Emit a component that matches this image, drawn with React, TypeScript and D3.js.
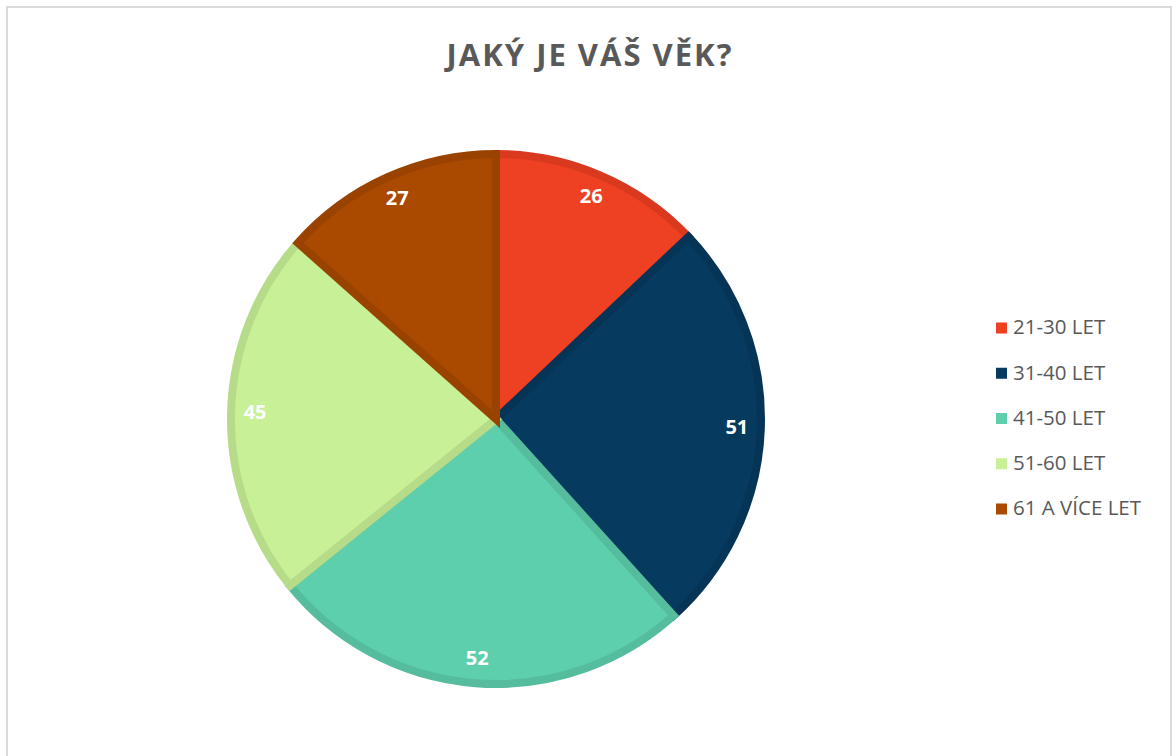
import React from "react";
import * as d3 from "d3";

const categories = ["21-30 LET", "31-40 LET", "41-50 LET", "51-60 LET", "61 A VÍCE LET"];
const values = [26, 51, 52, 45, 27];
const fills = ["#EE4023", "#063A5F", "#5DCFAD", "#C8F096", "#AA4900"];
const strokes = ["#D93A1F", "#053457", "#55BD9E", "#B7DC89", "#9A4200"];
const title = "JAKÝ JE VÁŠ VĚK?";

export default function App() {
  const W = 1172, H = 756;
  const cx = 496, cy = 419, R = 265;
  const pie = d3.pie<number>().sort(null).value((d) => d)(values);
  const arc = d3.arc<d3.PieArcDatum<number>>().innerRadius(0).outerRadius(R);
  const labelArc = d3.arc<d3.PieArcDatum<number>>().innerRadius(241).outerRadius(241);
  const legendY = d3.scalePoint<string>().domain(categories).range([328, 509]);
  return (
    <svg width={W} height={H} style={{ position: "absolute", left: 0, top: 0, display: "block" }}>
      <rect x={0} y={0} width={W} height={H} fill="#fff" />
      <rect x={7} y={7} width={1164} height={770} fill="#fff" stroke="#D9D9D9" strokeWidth={2} />
      <text x={590} y={58} textAnchor="middle" dominantBaseline="middle"
        fontFamily="'Open Sans', sans-serif" fontWeight={700} fontSize={31} fill="#595959"
        letterSpacing={2}>{title}</text>
      <g transform={`translate(${cx},${cy})`}>
        {pie.map((p, i) => (
          <path key={i} d={arc(p) || ""} fill={fills[i]} stroke={strokes[i]} strokeWidth={8} strokeLinejoin="miter" />
        ))}
        {pie.map((p, i) => {
          const [x, y] = labelArc.centroid(p);
          return (
            <text key={"l" + i} x={x} y={y} textAnchor="middle" dominantBaseline="middle"
              fontFamily="'Open Sans', sans-serif" fontWeight={700} fontSize={20} fill="#fff">{values[i]}</text>
          );
        })}
      </g>
      {categories.map((c, i) => (
        <g key={c} transform={`translate(996,${legendY(c)})`}>
          <rect x={0} y={-5.5} width={11} height={11} fill={fills[i]} />
          <text x={17} y={1} dominantBaseline="middle" fontFamily="'Open Sans', sans-serif"
            fontSize={20.5} fill="#595959">{c}</text>
        </g>
      ))}
    </svg>
  );
}
